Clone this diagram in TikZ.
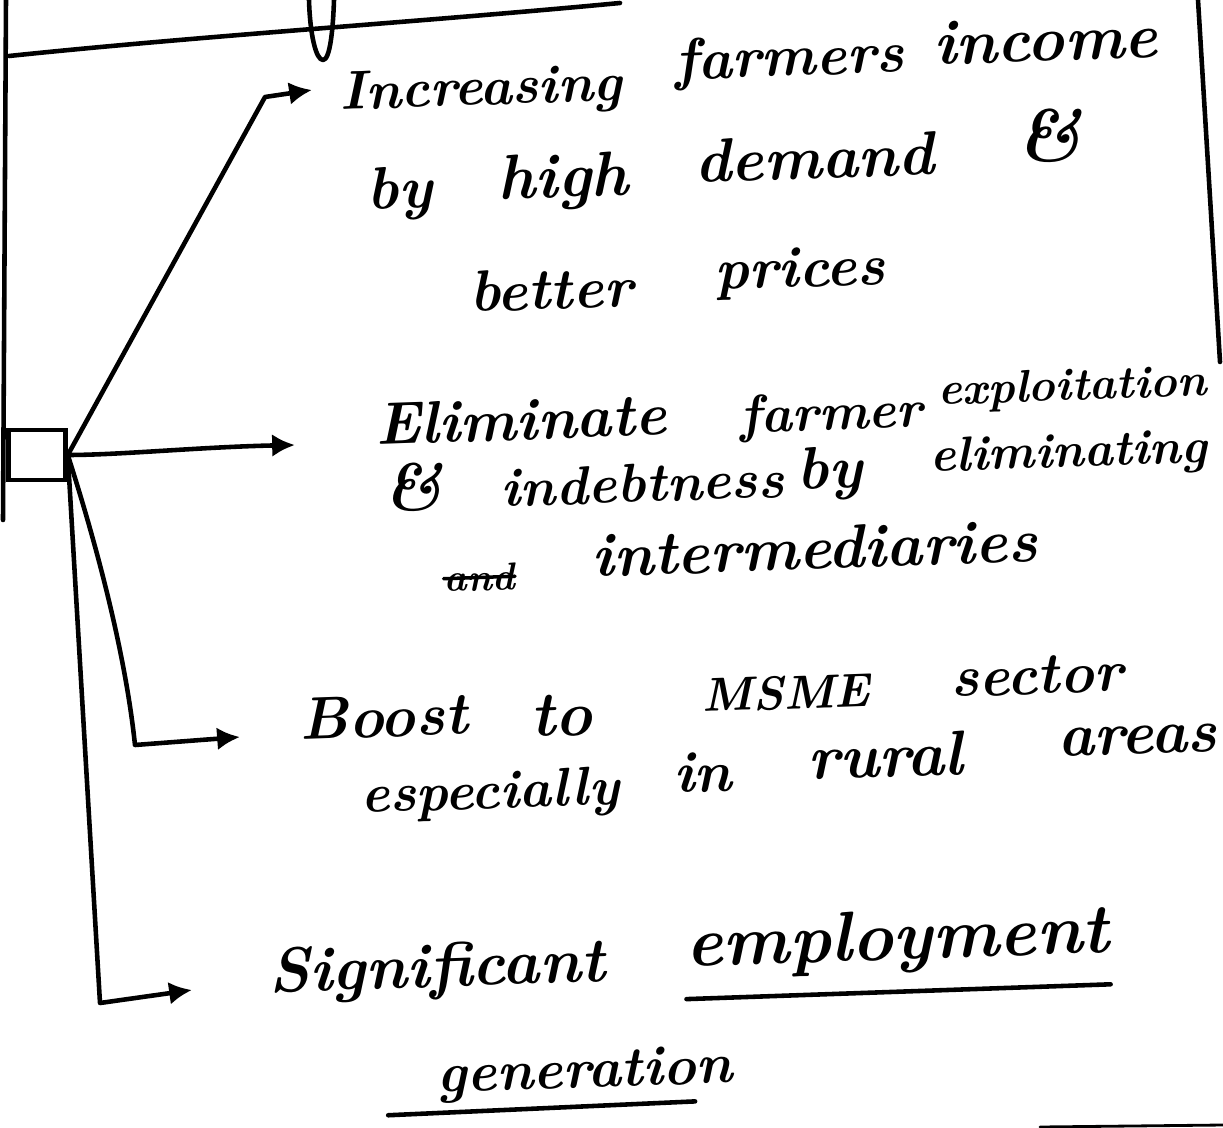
\documentclass[tikz,border=0pt]{standalone}
\usetikzlibrary{arrows.meta}
\tikzset{
  ink/.style={line width=2.6pt, line cap=round, line join=round},
  hw/.style={anchor=base west, inner sep=0pt, rotate=2, font=\fontsize{#1}{#1}\selectfont\bfseries\itshape},
  hw/.default=32,
  tip/.style={-{Latex[length=13pt,width=13pt]}}
}
\begin{document}
\begin{tikzpicture}[x=0.02cm,y=-0.02cm]
\useasboundingbox (0,0) rectangle (1223,1128);
% page edges and bits of the line above
\draw[ink] (6,0) -- (3,520);
\draw[ink] (1198,0) -- (1220,362);
\draw[ink] (9,56) .. controls (200,36) and (420,22) .. (620,3);
\draw[ink] (309,0) .. controls (310,35) and (316,60) .. (323,60) .. controls (330,60) and (333,30) .. (334,0);
\draw[ink,line width=1.6pt] (1040,1127) -- (1223,1125);
% the small box
\node[draw, line width=2.6pt, minimum width=1.14cm, minimum height=1cm, inner sep=0pt] (box) at (37,455) {};
% corners and arrow tips
\coordinate (c1) at (265,97);
\coordinate (a1) at (312,90);
\coordinate (a2) at (295,445);
\coordinate (c3) at (135,745);
\coordinate (a3) at (240,737);
\coordinate (c4) at (100,1003);
\coordinate (a4) at (192,990);
% first point
\node[hw=31] (inc1) at (340,110) {Increasing};
\node[hw=33] (inc2) at (675,80) {farmers};
\node[hw=36] (inc3) at (934,65) {income};
\node[hw=34] (dem1) at (367,210) {by};
\node[hw=36] (dem2) at (498,200) {high};
\node[hw=35] (dem3) at (695,183) {demand};
\node[hw=42] (dem4) at (1017,163) {\&};
\node[hw=33] (pri1) at (470,312) {better};
\node[hw=33] (pri2) at (715,290) {prices};
% second point
\node[hw=34] (eli1) at (376,445) {Eliminate};
\node[hw=30] (eli2) at (740,433) {farmer};
\node[hw=26] (eli3) at (938,405) {exploitation};
\node[hw=38] (ind1) at (384,512) {\&};
\node[hw=31] (ind2) at (501,507) {indebtness};
\node[hw=34] (ind3) at (797,490) {by};
\node[hw=28] (ind4) at (930,472) {eliminating};
\node[hw=22] (strk) at (444,592) {and};
\draw[ink, line width=2pt] (strk.west) -- (strk.east);
\node[hw=35] (mid) at (592,577) {intermediaries};
% third point
\node[hw=34] (msme1) at (300,740) {Boost};
\node[hw=36] (msme2) at (531,737) {to};
\node[hw=27] (msme3) at (702,712) {MSME};
\node[hw=33] (msme4) at (951,697) {sector};
\node[hw=31] (rur1) at (361,813) {especially};
\node[hw=33] (rur2) at (674,793) {in};
\node[hw=36] (rur3) at (808,780) {rural};
\node[hw=35] (rur4) at (1058,757) {areas};
% fourth point
\node[hw=36] (sig) at (269,993) {Significant};
\node[hw=40] (emp) at (686,967) {employment};
\node[hw=32] (gen) at (437,1093) {generation};
\draw[ink] ([yshift=-10pt]emp.south west) -- ([yshift=-10pt]emp.south east);
\draw[ink] ([xshift=-28pt,yshift=-6pt]gen.south west) -- ([xshift=-22pt,yshift=-4pt]gen.south east);
% branches
\draw[ink,tip] (box.east) -- (c1) -- (a1);
\draw[ink,tip] (box.east) .. controls (120,455) and (200,447) .. (a2);
\draw[ink,tip] (box.east) .. controls (95,540) and (125,650) .. (c3) -- (a3);
\draw[ink,tip] (box.east) -- (c4) -- (a4);
\end{tikzpicture}
\end{document}
